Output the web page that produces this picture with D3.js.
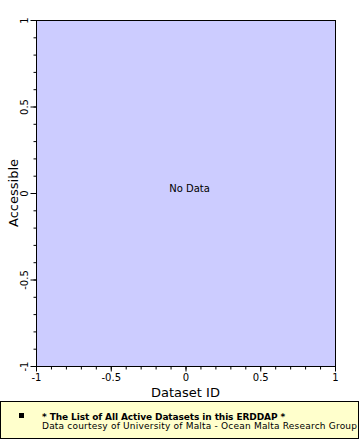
<!DOCTYPE html>
<html>
<head>
<meta charset="utf-8">
<script src="https://cdn.jsdelivr.net/npm/d3@7"></script>
<style>
  body { margin: 0; background: #fff; }
  svg { display: block; font-family: "DejaVu Sans", sans-serif; }
</style>
</head>
<body>
<svg width="360" height="440"></svg>
<script>
let xDomain = [-1, 1]
let yDomain = [-1, 1]
let majorTicks = [-1, -0.5, 0, 0.5, 1]
let minorTicks = d3.range(-10, 11).map(d => d / 10)
let xLabel = "Dataset ID"
let yLabel = "Accessible"
let legendTitle = "* The List of All Active Datasets in this ERDDAP *"
let legendCredit = "Data courtesy of University of Malta - Ocean Malta Research Group"

let margin = { top: 20, right: 25, bottom: 74, left: 36 },
    width = 360 - margin.left - margin.right,
    height = 440 - margin.top - margin.bottom

let x = d3.scaleLinear().domain(xDomain).range([0, width])
let y = d3.scaleLinear().domain(yDomain).range([height, 0])

let svg = d3.select("svg")
let g = svg.append("g")
    .attr("transform", "translate(" + margin.left + "," + margin.top + ")")

g.append("rect")
    .attr("x", 0.5).attr("y", 0.5)
    .attr("width", width).attr("height", height)
    .attr("fill", "#ccccff")
    .attr("stroke", "#000")
    .attr("stroke-width", 1)

let fmt = d => String(d)

// minor ticks
g.append("g")
    .attr("transform", "translate(0," + (height + 0.5) + ")")
    .call(d3.axisBottom(x).tickValues(minorTicks).tickSize(3).tickFormat(""))
    .call(a => a.select(".domain").remove())
g.append("g")
    .attr("transform", "translate(0.5,0)")
    .call(d3.axisLeft(y).tickValues(minorTicks).tickSize(3).tickFormat(""))
    .call(a => a.select(".domain").remove())

// major ticks
let xAxis = g.append("g")
    .attr("transform", "translate(0," + (height + 0.5) + ")")
    .call(d3.axisBottom(x).tickValues(majorTicks).tickSize(5).tickPadding(2).tickFormat(fmt))
xAxis.select(".domain").remove()

let yAxis = g.append("g")
    .attr("transform", "translate(0.5,0)")
    .call(d3.axisLeft(y).tickValues(majorTicks).tickSize(6).tickFormat(fmt))
yAxis.select(".domain").remove()
yAxis.selectAll(".tick text")
    .attr("x", null).attr("dy", null)
    .attr("text-anchor", "middle")
    .attr("transform", "translate(-12,0) rotate(-90)")
    .attr("dy", "0.35em")

svg.selectAll(".tick text")
    .attr("font-family", "DejaVu Sans")
    .attr("font-size", 10)
    .attr("fill", "#000")
svg.selectAll(".tick line").attr("stroke", "#000")

g.append("text")
    .attr("x", x(0) + 4).attr("y", y(0) - 5)
    .attr("text-anchor", "middle")
    .attr("dy", "0.35em")
    .attr("font-size", 10)
    .text("No Data")

svg.append("text")
    .attr("x", margin.left + width / 2)
    .attr("y", 397)
    .attr("text-anchor", "middle")
    .attr("font-size", 13)
    .text(xLabel)

svg.append("text")
    .attr("transform", "translate(18," + (margin.top + height / 2) + ") rotate(-90)")
    .attr("text-anchor", "middle")
    .attr("font-size", 13)
    .text(yLabel)

// legend
let legend = svg.append("g")
legend.append("rect")
    .attr("x", 0.5).attr("y", 401.5)
    .attr("width", 358).attr("height", 37)
    .attr("fill", "#ffffcc")
    .attr("stroke", "#000")
legend.append("rect")
    .attr("x", 19).attr("y", 413)
    .attr("width", 5).attr("height", 5)
    .attr("fill", "#000")
legend.append("text")
    .attr("x", 42).attr("y", 420)
    .attr("font-size", 9)
    .attr("font-weight", "bold")
    .attr("letter-spacing", -0.1)
    .text(legendTitle)
legend.append("text")
    .attr("x", 42).attr("y", 428.5)
    .attr("font-size", 9)
    .attr("letter-spacing", 0.2)
    .text(legendCredit)
</script>
</body>
</html>
